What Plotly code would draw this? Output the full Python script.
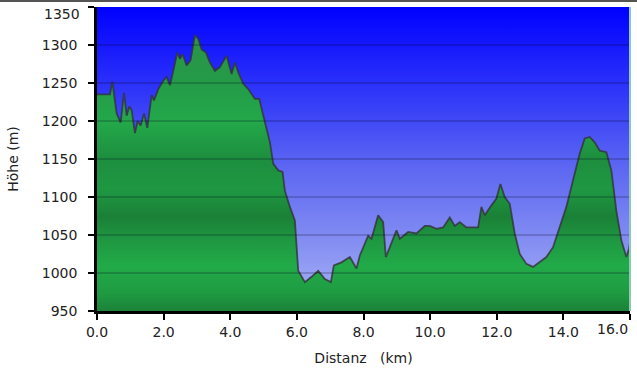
import plotly.graph_objects as go

# ---- data ----
dist_km = [0.00, 0.39, 0.46, 0.59, 0.71, 0.81, 0.89, 0.97, 1.04, 1.14, 1.22, 1.31, 1.41, 1.51,
           1.64, 1.71, 1.84, 1.99, 2.09, 2.19, 2.29, 2.41, 2.49, 2.57, 2.69, 2.81, 2.94, 3.04,
           3.14, 3.27, 3.39, 3.54, 3.69, 3.89, 4.04, 4.14, 4.24, 4.39, 4.54, 4.74, 4.87, 4.99,
           5.14, 5.19, 5.29, 5.44, 5.57, 5.64, 5.79, 5.94, 6.04, 6.24, 6.44, 6.64, 6.84, 7.02,
           7.11, 7.34, 7.59, 7.79, 7.89, 8.14, 8.24, 8.44, 8.59, 8.67, 8.79, 8.99, 9.09, 9.34,
           9.59, 9.84, 9.99, 10.19, 10.39, 10.59, 10.74, 10.89, 11.09, 11.44, 11.54, 11.64,
           11.84, 11.99, 12.11, 12.24, 12.39, 12.54, 12.69, 12.89, 13.09, 13.29, 13.49, 13.69,
           13.89, 14.09, 14.29, 14.49, 14.64, 14.79, 14.94, 15.09, 15.29, 15.44, 15.59, 15.74,
           15.89, 15.97, 16.00]
elev_m = [1235, 1235, 1252, 1210, 1198, 1237, 1207, 1219, 1214, 1184, 1200, 1194, 1210, 1191,
          1234, 1227, 1242, 1253, 1258, 1247, 1266, 1290, 1282, 1288, 1273, 1280, 1313, 1308,
          1294, 1290, 1277, 1266, 1271, 1286, 1262, 1277, 1264, 1249, 1242, 1229, 1229, 1207,
          1179, 1172, 1144, 1135, 1133, 1108, 1087, 1069, 1003, 988, 995, 1003, 992, 988,
          1010, 1014, 1021, 1006, 1023, 1049, 1045, 1076, 1067, 1021, 1034, 1056, 1045, 1054,
          1052, 1062, 1062, 1058, 1060, 1073, 1062, 1067, 1060, 1060, 1087, 1076,
          1089, 1098, 1117, 1100, 1091, 1052, 1025, 1012, 1008, 1014, 1021, 1034,
          1060, 1087, 1122, 1157, 1177, 1179, 1172, 1161, 1159, 1135, 1082, 1043,
          1021, 1032, 1040]

x_ticks = [0, 2, 4, 6, 8, 10, 12, 14, 16]
x_tick_text = ["0.0", "2.0", "4.0", "6.0", "8.0", "10.0", "12.0", "14.0", "16.0"]
y_ticks = [950, 1000, 1050, 1100, 1150, 1200, 1250, 1300, 1350]
x_range = [0, 16.0]
y_range = [950, 1350]

FONT = "DejaVu Sans, Verdana, sans-serif"
TXT = "#222222"

bg_scale = [[0.0, "rgb(172,182,246)"], [0.25, "rgb(128,138,242)"], [0.5, "rgb(88,98,242)"],
            [0.75, "rgb(42,48,250)"], [1.0, "rgb(0,0,255)"]]
green_scale = [[0.0, "rgb(27,130,56)"], [0.06, "rgb(31,155,66)"], [0.15, "rgb(34,170,72)"],
               [0.23, "rgb(31,152,66)"], [0.31, "rgb(26,128,54)"], [0.40, "rgb(31,152,66)"],
               [0.50, "rgb(29,142,62)"], [0.62, "rgb(35,168,74)"], [0.75, "rgb(36,155,72)"],
               [0.88, "rgb(42,148,72)"], [1.0, "rgb(42,148,72)"]]

fig = go.Figure()

# background gradient panel spanning the axis ranges
fig.add_trace(go.Scatter(
    x=[x_range[0], x_range[1], x_range[1], x_range[0]],
    y=[y_range[0], y_range[0], y_range[1], y_range[1]],
    fill="toself", mode="none", hoverinfo="skip", showlegend=False,
    fillgradient=dict(type="vertical", colorscale=bg_scale, start=y_range[0], stop=y_range[1]),
))

# elevation profile
fig.add_trace(go.Scatter(
    x=dist_km, y=elev_m, mode="lines", fill="tozeroy",
    line=dict(color="rgba(50,50,55,0.8)", width=1.8),
    fillgradient=dict(type="vertical", colorscale=green_scale, start=y_range[0], stop=y_range[1]),
    hoverinfo="skip", showlegend=False,
))

# horizontal grid lines drawn above the area
for v in y_ticks[1:-1]:
    fig.add_shape(type="line", xref="x domain", x0=0, x1=1, yref="y", y0=v, y1=v,
                  line=dict(color="rgba(0,0,30,0.38)", width=1), layer="above")

# right edge line of the plot
fig.add_shape(type="line", xref="paper", x0=1, x1=1, yref="paper", y0=0, y1=1,
              line=dict(color="#8ccab8", width=2), layer="above")

# dark border line across the very top of the image
PLOT_H = 375 - 7 - 64
PLOT_W = 637 - 97 - 7
fig.add_shape(type="line", xref="paper", x0=-97 / PLOT_W, x1=1 + 7 / PLOT_W,
              yref="paper", y0=1 + 6 / PLOT_H, y1=1 + 6 / PLOT_H,
              line=dict(color="#555555", width=2), layer="above")

# end labels pulled inside (as in the reference)
tick_labels_shown_x = x_tick_text[:-1] + [""]
y_tick_text = [str(v) for v in y_ticks[:-1]] + [""]
fig.add_annotation(x=x_ticks[-1], xref="x", y=0, yref="paper", text=x_tick_text[-1],
                   showarrow=False, xanchor="right", yanchor="top", yshift=-8, xshift=0,
                   font=dict(size=14, family=FONT, color=TXT))
fig.add_annotation(x=0, xref="paper", y=y_ticks[-1], yref="y", text=str(y_ticks[-1]),
                   showarrow=False, xanchor="right", yanchor="top", xshift=-15, yshift=3,
                   font=dict(size=14, family=FONT, color=TXT))

fig.update_layout(
    width=637, height=375,
    margin=dict(l=97, r=7, t=7, b=64),
    paper_bgcolor="white", plot_bgcolor="white",
    font=dict(family=FONT, size=14, color=TXT),
    xaxis=dict(
        range=x_range, tickvals=x_ticks, ticktext=tick_labels_shown_x,
        showgrid=False, zeroline=False,
        showline=True, linecolor="black", linewidth=2.5,
        ticks="outside", ticklen=6, tickwidth=2, tickcolor="black",
        tickfont=dict(size=14, family=FONT, color=TXT),
        title=dict(text="Distanz\u00a0\u00a0 (km)", font=dict(size=14, family=FONT, color=TXT),
                   standoff=15),
        automargin=False, layer="above traces",
    ),
    yaxis=dict(
        range=y_range, tickvals=y_ticks, ticktext=y_tick_text,
        showgrid=False, zeroline=False,
        showline=True, linecolor="black", linewidth=2.5,
        ticks="outside", ticklen=6, tickwidth=2, tickcolor="black",
        ticklabelstandoff=8,
        tickfont=dict(size=14, family=FONT, color=TXT),
        title=dict(text="Höhe (m)", font=dict(size=14, family=FONT, color=TXT),
                   standoff=20),
        automargin=False, layer="above traces",
    ),
)

fig.write_html("out.html")
